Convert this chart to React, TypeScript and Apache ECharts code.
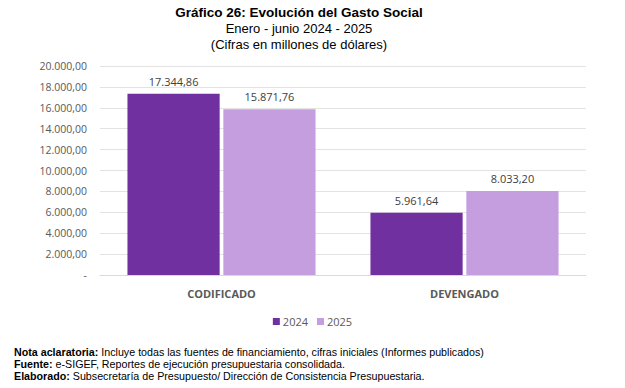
import React, { useEffect, useRef } from "react";
import * as echarts from "echarts";

const categories = ["CODIFICADO", "DEVENGADO"];
const series2024 = [17344.86, 5961.64];
const series2025 = [15871.76, 8033.2];
const seriesNames = ["2024", "2025"];

const fmt = (v: number) => {
  if (v === 0) return "-";
  const [i, d] = v.toFixed(2).split(".");
  return i.replace(/\B(?=(\d{3})+(?!\d))/g, ".") + "," + d;
};

export default function App() {
  const ref = useRef<HTMLDivElement>(null);
  useEffect(() => {
    const chart = echarts.init(ref.current!, null, { renderer: "svg" });
    const labelStyle = {
      show: true,
      position: "top" as const,
      distance: 7,
      color: "#404040",
      fontFamily: "Open Sans",
      fontSize: 11,
      formatter: (p: any) => fmt(p.value),
    };
    const titleText = (text: string, y: number, bold: boolean, size: number) => ({
      type: "text",
      x: 299,
      y,
      style: {
        text,
        fontFamily: "Liberation Sans",
        fontSize: size,
        fontWeight: bold ? "bold" : "normal",
        fill: "#000",
        align: "center",
        verticalAlign: "top",
      },
    });
    chart.setOption({
      animation: false,
      grid: { left: 100, right: 39, top: 66, bottom: 113 },
      legend: {
        data: seriesNames,
        bottom: 56,
        left: "center",
        itemWidth: 7,
        itemHeight: 7,
        itemGap: 9,
        icon: "rect",
        textStyle: { fontFamily: "Open Sans", fontSize: 11, color: "#595959", padding: [0, 0, 0, -2] },
      },
      xAxis: {
        type: "category",
        data: categories,
        axisLine: { show: true, lineStyle: { color: "#D9D9D9" } },
        axisTick: { show: false },
        axisLabel: {
          margin: 13,
          fontFamily: "Open Sans",
          fontWeight: "bold",
          fontSize: 11,
          color: "#595959",
        },
      },
      yAxis: {
        type: "value",
        min: 0,
        max: 20000,
        interval: 2000,
        axisLine: { show: false },
        axisTick: { show: false },
        splitLine: { lineStyle: { color: "#E3E3E3" } },
        axisLabel: {
          margin: 13,
          fontFamily: "Open Sans",
          fontSize: 10.5,
          color: "#595959",
          formatter: fmt,
        },
      },
      series: [
        {
          name: seriesNames[0],
          type: "bar",
          data: series2024,
          itemStyle: { color: "#7030A0" },
          barGap: "4%",
          barCategoryGap: "22.6%",
          label: labelStyle,
        },
        {
          name: seriesNames[1],
          type: "bar",
          data: series2025,
          itemStyle: { color: "#C59EE0" },
          label: labelStyle,
        },
      ],
      graphic: [
        titleText("Gráfico 26: Evolución del Gasto Social", 5, true, 13.5),
        titleText("Enero - junio 2024 - 2025", 22, false, 13),
        titleText("(Cifras en millones de dólares)", 38, false, 13),
        {
          type: "text",
          left: 14,
          top: 346,
          style: {
            text: "{b|Nota aclaratoria:} Incluye todas las fuentes de financiamiento, cifras iniciales (Informes publicados)\n{b|Fuente:} e-SIGEF, Reportes de ejecución presupuestaria consolidada.\n{b|Elaborado:} Subsecretaría de Presupuesto/ Dirección de Consistencia Presupuestaria.",
            fontFamily: "Liberation Sans",
            fontSize: 10.7,
            lineHeight: 12,
            fill: "#000",
            rich: {
              b: { fontFamily: "Liberation Sans", fontSize: 10.7, fontWeight: "bold", lineHeight: 12, fill: "#000" },
            },
          },
        },
      ],
    });
    return () => chart.dispose();
  }, []);
  return <div ref={ref} style={{ width: 625, height: 388, position: "absolute", left: 0, top: 0, background: "#fff" }} />;
}
